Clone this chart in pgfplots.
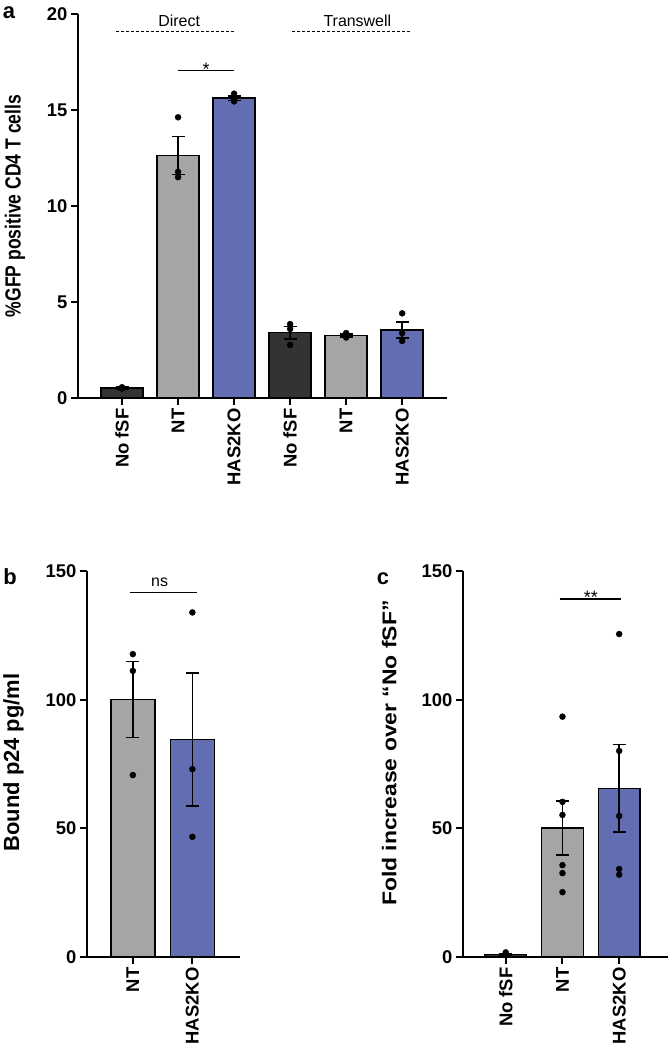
\documentclass[border=0pt]{standalone}
\usepackage{pgfplots}
\pgfplotsset{compat=1.18}
\usepackage{fontspec}
\setmainfont{Liberation Sans}
\setsansfont{Liberation Sans}
\definecolor{dk}{HTML}{333333}
\definecolor{gr}{HTML}{A5A5A7}
\definecolor{bl}{HTML}{636DB2}
\pgfplotsset{
  panel/.style={
    scale only axis, axis x line=bottom, axis y line=left,
    axis line style={-, line width=2.4bp},
    every outer x axis line/.append style={-},
    every outer y axis line/.append style={-},
    tick align=outside, major tick length=7bp,
    every tick/.style={black, line width=2bp},
    ticklabel style={font=\bfseries\fontsize{18.5}{20}\selectfont},
    /pgf/number format/assume math mode=true,
    x tick label style={rotate=90, anchor=east},
    ymin=0, clip=false,
  },
  barst/.style={ybar, bar shift=0pt, draw=black, line width=1.5bp,
    error bars/y dir=both, error bars/y explicit,
    error bars/error bar style={line width=1.5bp, black},
    error bars/error mark options={rotate=90, mark size=6.5bp, line width=1.5bp, black}},
  dots/.style={only marks, mark=*, mark size=3bp, black, mark options={fill=black}},
}
\begin{document}
\begin{tikzpicture}
\path[use as bounding box] (0bp,0bp) rectangle (668bp,1051bp);
% panel letters
\node[font=\bfseries\fontsize{22}{24}\selectfont] at (9bp,1038bp) {a};
\node[font=\bfseries\fontsize{22}{24}\selectfont] at (10bp,474bp) {b};
\node[font=\bfseries\fontsize{22}{24}\selectfont] at (383bp,472bp) {c};
% ---------------- panel a
\begin{axis}[panel, at={(78bp,653bp)}, anchor=south west, width=369bp, height=384bp,
  xmin=-0.786, xmax=5.8, ymax=20, ytick={0,5,10,15,20},
  xtick={0,1,2,3,4,5}, xticklabels={No fSF,NT,HAS2KO,No fSF,NT,HAS2KO},
  ylabel={\scalebox{0.8}[1]{\%GFP positive CD4 T cells}},
  ylabel style={font=\bfseries\fontsize{22}{24}\selectfont, at={(axis description cs:-0.171,0.5)}, anchor=center}]
\addplot[fill=dk, bar width=0.75, barst] coordinates {(0,0.52) +- (0,0.04) (3,3.40) +- (0,0.32)};
\addplot[fill=gr, bar width=0.75, barst] coordinates {(1,12.63) +- (0,0.99) (4,3.25) +- (0,0.08)};
\addplot[fill=bl, bar width=0.75, barst] coordinates {(2,15.62) +- (0,0.12) (5,3.55) +- (0,0.42)};
\addplot[dots] coordinates {(0,0.56)(0,0.50)(0,0.50)(1,14.62)(1,11.78)(1,11.50)(2,15.85)(2,15.55)(2,15.45)(3,3.85)(3,3.60)(3,2.76)(4,3.38)(4,3.22)(4,3.15)(5,4.41)(5,3.38)(5,2.97)};
\draw[line width=1.5bp] (axis cs:1,17.05) -- (axis cs:2,17.05);
\node[anchor=base, font=\fontsize{18}{20}\selectfont, inner sep=0pt] at (axis cs:1.5,16.8) {*};
\draw[line width=1.2bp, dash pattern=on 3bp off 2bp] (axis cs:-0.107,19.08) -- (axis cs:2.02,19.08);
\draw[line width=1.2bp, dash pattern=on 3bp off 2bp] (axis cs:3.04,19.08) -- (axis cs:5.14,19.08);
\node[anchor=base, font=\fontsize{16}{18}\selectfont, inner sep=0pt] at (axis cs:1.02,19.34) {Direct};
\node[anchor=base, font=\fontsize{16}{18}\selectfont, inner sep=0pt] at (axis cs:4.2,19.34) {Transwell};
\end{axis}
% ---------------- panel b
\begin{axis}[panel, at={(87bp,94bp)}, anchor=south west, width=153bp, height=386bp,
  xmin=-0.77, xmax=1.80, ymax=150, ytick={0,50,100,150},
  xtick={0,1}, xticklabels={NT,HAS2KO},
  ylabel={Bound p24 pg/ml},
  ylabel style={font=\bfseries\fontsize{22}{24}\selectfont, at={(axis description cs:-0.48,0.504)}, anchor=center}]
\addplot[fill=gr, bar width=0.74, barst] coordinates {(0,100.0) +- (0,14.8)};
\addplot[fill=bl, bar width=0.74, barst] coordinates {(1,84.5) +- (0,25.8)};
\addplot[dots] coordinates {(0,117.7)(0,111.2)(0,70.7)(1,133.9)(1,73.0)(1,46.7)};
\draw[line width=1.5bp] (axis cs:-0.04,141.7) -- (axis cs:1.07,141.7);
\node[anchor=base, font=\fontsize{16}{18}\selectfont, inner sep=0pt] at (axis cs:0.45,144.1) {ns};
\end{axis}
% ---------------- panel c
\begin{axis}[panel, at={(463bp,94bp)}, anchor=south west, width=205bp, height=386bp,
  xmin=-0.753, xmax=2.86, ymax=150, ytick={0,50,100,150},
  xtick={0,1,2}, xticklabels={No fSF,NT,HAS2KO},
  ylabel={\scalebox{1.15}[1]{Fold increase over “No fSF”}},
  ylabel style={font=\bfseries\fontsize{20}{22}\selectfont, at={(axis description cs:-0.36,0.528)}, anchor=center}]
\addplot[fill=dk, bar width=0.735, barst] coordinates {(0,1.0) +- (0,0.2)};
\addplot[fill=gr, bar width=0.735, barst] coordinates {(1,50.2) +- (0,10.5)};
\addplot[fill=bl, bar width=0.735, barst] coordinates {(2,65.5) +- (0,17.0)};
\addplot[dots] coordinates {(0,1.8)(0,1.0)(0,0.8)(0,0.8)(0,0.9)(0,0.7)(1,93.4)(1,60.3)(1,55.2)(1,35.7)(1,32.6)(1,25.2)(2,125.5)(2,80.1)(2,54.8)(2,34.2)(2,32.0)};
\draw[line width=1.5bp] (axis cs:0.955,139.1) -- (axis cs:2.03,139.1);
\node[anchor=base, font=\fontsize{18}{20}\selectfont, inner sep=0pt] at (axis cs:1.5,137.2) {**};
\end{axis}
\end{tikzpicture}
\end{document}
